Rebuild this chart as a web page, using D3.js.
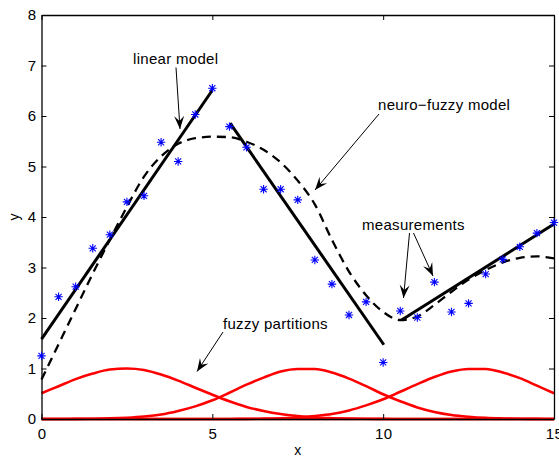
<!DOCTYPE html>
<html>
<head>
<meta charset="utf-8">
<script src="https://cdn.jsdelivr.net/npm/d3@7"></script>
<style>
  html, body { margin: 0; padding: 0; background: #fff; }
  svg { display: block; font-family: "Liberation Sans", Arial, Helvetica, sans-serif; }
</style>
</head>
<body>
<svg id="chart" width="559" height="461"></svg>
<script>
// Measurements
const measX = [0, 0.5, 1, 1.5, 2, 2.5, 3, 3.5, 4, 4.5, 5, 5.5, 6, 6.5, 7, 7.5, 8, 8.5, 9, 9.5, 10, 10.5, 11, 11.5, 12, 12.5, 13, 13.5, 14, 14.5, 15];
const measY = [1.25, 2.42, 2.62, 3.38, 3.65, 4.30, 4.42, 5.48, 5.10, 6.03, 6.55, 5.79, 5.38, 4.55, 4.55, 4.34, 3.15, 2.67, 2.06, 2.32, 1.12, 2.14, 2.01, 2.71, 2.12, 2.29, 2.87, 3.16, 3.41, 3.68, 3.89];

// Local linear models (segment end points)
const lm1X = [0, 5],        lm1Y = [1.58, 6.51];
const lm2X = [5.52, 10.02], lm2Y = [5.86, 1.47];
const lm3X = [10.54, 15],   lm3Y = [1.96, 3.86];

// Neuro-fuzzy model output
const nfX = [0, 0.5, 1, 1.5, 2, 2.5, 3, 3.5, 4, 4.5, 5, 5.5, 6, 6.5, 7, 7.5, 8, 8.5, 9, 9.5, 10, 10.5, 11, 11.5, 12, 12.5, 13, 13.5, 14, 14.5, 15];
const nfY = [0.78, 1.48, 2.18, 2.88, 3.55, 4.20, 4.80, 5.20, 5.45, 5.56, 5.59, 5.58, 5.49, 5.33, 5.08, 4.72, 4.25, 3.55, 2.92, 2.45, 2.12, 1.96, 2.03, 2.26, 2.52, 2.76, 2.95, 3.10, 3.19, 3.22, 3.18];

// Fuzzy partitions (membership functions)
const muX = [0, 0.5, 1, 1.5, 2, 2.5, 3, 3.5, 4, 4.5, 5, 5.5, 6, 6.5, 7, 7.5, 8, 8.5, 9, 9.5, 10, 10.5, 11, 11.5, 12, 12.5, 13, 13.5, 14, 14.5, 15];
const mu1 = [0.51, 0.65, 0.79, 0.90, 0.98, 1.00, 0.97, 0.88, 0.76, 0.62, 0.48, 0.35, 0.24, 0.16, 0.10, 0.06, 0.03, 0.016, 0.008, 0.004, 0.002, 0.001, 0, 0, 0, 0, 0, 0, 0, 0, 0];
const mu2 = [0, 0.001, 0.002, 0.005, 0.012, 0.026, 0.05, 0.09, 0.16, 0.25, 0.37, 0.52, 0.68, 0.82, 0.94, 0.99, 0.99, 0.92, 0.80, 0.65, 0.49, 0.35, 0.23, 0.14, 0.08, 0.045, 0.022, 0.011, 0.005, 0.002, 0.001];
const mu3 = [0, 0, 0, 0, 0, 0, 0, 0, 0, 0, 0.0005, 0.001, 0.003, 0.007, 0.015, 0.031, 0.06, 0.10, 0.17, 0.27, 0.39, 0.54, 0.69, 0.83, 0.94, 0.99, 0.99, 0.92, 0.81, 0.66, 0.51];
const baseX = [0, 15], baseY = [0, 0];

// Axis ticks
const xTicks = [0, 5, 10, 15];
const yTicks = [0, 1, 2, 3, 4, 5, 6, 7, 8];

const svg = d3.select("#chart");
const L = 41.5, R = 554, T = 15, B = 419;
const x = d3.scaleLinear().domain([0, 15]).range([L, R]);
const y = d3.scaleLinear().domain([0, 8]).range([B, T]);

const zip = (xs, ys) => xs.map((v, i) => [v, ys[i]]);
const line = d3.line().x(d => x(d[0])).y(d => y(d[1]));
const smooth = d3.line().x(d => x(d[0])).y(d => y(d[1])).curve(d3.curveMonotoneX);

// Arrow head marker
const defs = svg.append("defs");
defs.append("marker")
  .attr("id", "head")
  .attr("viewBox", "-14 -6 15 12")
  .attr("refX", 0).attr("refY", 0)
  .attr("markerUnits", "userSpaceOnUse")
  .attr("markerWidth", 15).attr("markerHeight", 12)
  .attr("orient", "auto")
  .append("path")
  .attr("d", "M0,0 L-13,-5 L-8,0 L-13,5 Z")
  .attr("fill", "#000");

// Membership functions
const red = svg.append("g").attr("fill", "none").attr("stroke", "#ff0000").attr("stroke-width", 2.6);
red.append("path").attr("d", line(zip(baseX, baseY)));
[mu1, mu2, mu3].forEach(mu => red.append("path").attr("d", smooth(zip(muX, mu))));

// Neuro-fuzzy model
svg.append("path")
  .attr("d", smooth(zip(nfX, nfY)))
  .attr("fill", "none").attr("stroke", "#000")
  .attr("stroke-width", 2.3).attr("stroke-dasharray", "9,6");

// Linear models
[[lm1X, lm1Y], [lm2X, lm2Y], [lm3X, lm3Y]].forEach(([xs, ys]) => {
  svg.append("path").attr("d", line(zip(xs, ys)))
    .attr("fill", "none").attr("stroke", "#000").attr("stroke-width", 3);
});

// Axes box with inward ticks
const fs = 15, ls = 0.3;
const axB = svg.append("g").attr("transform", `translate(0,${B})`)
  .call(d3.axisBottom(x).tickValues(xTicks).tickSizeInner(-5).tickSizeOuter(0).tickPadding(9).tickFormat(d3.format("d")));
const axT = svg.append("g").attr("transform", `translate(0,${T})`)
  .call(d3.axisTop(x).tickValues(xTicks).tickSizeInner(-5).tickSizeOuter(0).tickFormat(""));
const axL = svg.append("g").attr("transform", `translate(${L},0)`)
  .call(d3.axisLeft(y).tickValues(yTicks).tickSizeInner(-5).tickSizeOuter(0).tickPadding(5).tickFormat(d3.format("d")));
const axR = svg.append("g").attr("transform", `translate(${R},0)`)
  .call(d3.axisRight(y).tickValues(yTicks).tickSizeInner(-5).tickSizeOuter(0).tickFormat(""));
[axB, axT, axL, axR].forEach(g => {
  g.select(".domain").attr("stroke", "#000").attr("stroke-width", 1.3);
  g.selectAll(".tick line").attr("stroke", "#000");
  g.selectAll(".tick text").attr("fill", "#000").style("font-size", fs + "px")
    .style("letter-spacing", ls + "px")
    .style("font-family", "'Liberation Sans', Arial, sans-serif");
});

// Measurement markers (asterisks)
const star = svg.append("g").attr("stroke", "#0000ff").attr("stroke-width", 1.1).attr("fill", "none");
const s = 4.2, d = s * 0.72;
zip(measX, measY).forEach(p => {
  const cx = x(p[0]), cy = y(p[1]);
  star.append("path").attr("d",
    `M${cx - s},${cy}L${cx + s},${cy}M${cx},${cy - s}L${cx},${cy + s}` +
    `M${cx - d},${cy - d}L${cx + d},${cy + d}M${cx - d},${cy + d}L${cx + d},${cy - d}`);
});

// Axis labels
svg.append("text").attr("x", (L + R) / 2).attr("y", 455).attr("text-anchor", "middle")
  .style("font-size", "14px").text("x");
svg.append("text").attr("transform", `translate(19,${(T + B) / 2}) rotate(-90)`)
  .attr("text-anchor", "middle").style("font-size", "14px").text("y");

// Annotations
const notes = [
  { text: "linear model", tx: 133, ty: 64, arrows: [[176, 67.5, 180, 129]] },
  { text: "neuro\u2212fuzzy model", tx: 378, ty: 110, arrows: [[379, 114, 315, 190]] },
  { text: "measurements", tx: 362, ty: 230, arrows: [[409.5, 233, 403.5, 298], [413.5, 233, 433, 276]] },
  { text: "fuzzy partitions", tx: 223, ty: 328.5, arrows: [[223, 332, 197, 371.5]] }
];
notes.forEach(n => {
  svg.append("text").attr("x", n.tx).attr("y", n.ty)
    .style("font-size", fs + "px").style("letter-spacing", ls + "px").text(n.text);
  n.arrows.forEach(a => {
    svg.append("line").attr("x1", a[0]).attr("y1", a[1]).attr("x2", a[2]).attr("y2", a[3])
      .attr("stroke", "#000").attr("stroke-width", 1)
      .attr("marker-end", "url(#head)");
  });
});
</script>
</body>
</html>
